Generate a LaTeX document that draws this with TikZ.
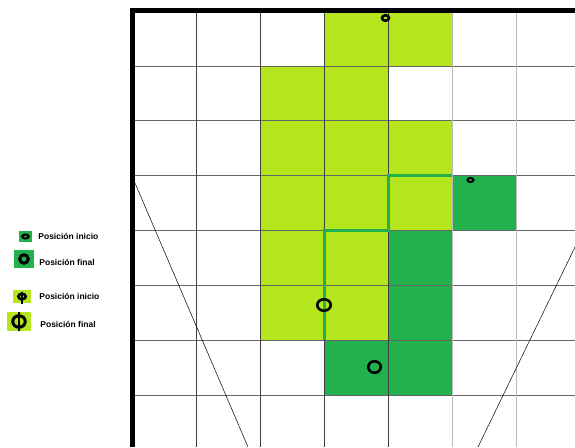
\documentclass[tikz,border=0pt]{standalone}
\usepackage{fontspec}
\setmainfont{Liberation Sans}
\usetikzlibrary{positioning, shapes.geometric}
\definecolor{verde}{HTML}{22B14C}
\definecolor{lima}{HTML}{B5E61D}

\begin{document}
\begin{tikzpicture}[
    x=1pt, y=-1pt,
    node distance=6pt,
    marca/.style={ellipse, draw=black, line width=#1, inner sep=0pt},
    marca/.default=2pt,
    cuadro/.style={rectangle, fill=#1, inner sep=0pt},
    etiqueta/.style={font=\fontsize{8.5}{10}\selectfont\bfseries, inner sep=0pt},
    linea/.style={line width=0.8pt, draw=#1}
]
\useasboundingbox (0,0) rectangle (575,447);
\clip (0,0) rectangle (575,447);

% casillas
\foreach \c/\r in {3/0,4/0,2/1,3/1,2/2,3/2,4/2,2/3,3/3,4/3,2/4,3/4,2/5,3/5}
  \fill[lima] ({132+64*\c},{11+54.9*\r}) rectangle ++(64,54.9);
\foreach \c/\r in {5/3,4/4,4/5,3/6,4/6}
  \fill[verde] ({132+64*\c},{11+54.9*\r}) rectangle ++(64,54.9);

% rejilla
\foreach \y in {65.9,120.8,175.7,230.6,285.5,340.4,395.3}
  \draw[linea=black!60] (132,\y) -- (575,\y);
\foreach \x in {196,260,324,388}
  \draw[linea=black!75] (\x,11) -- (\x,447);
\foreach \x in {452,516}
  \draw[linea=gray!55] (\x,11) -- (\x,447);

\draw[line width=0.5pt] (132,176) -- (248,447);
\draw[line width=0.5pt] (575,247) -- (478,447);

\draw[line width=5pt] (132,447) -- (132,10.5) -- (575,10.5);

% recorrido
\coordinate (p1) at (452,175.7);
\coordinate (p2) at (388,175.7);
\coordinate (p3) at (388,230.6);
\coordinate (p4) at (324,230.6);
\coordinate (p5) at (324,340.4);
\draw[verde, line width=3pt] (p1) -- (p2) -- (p3) -- (p4) -- (p5);

\node[marca=2.6pt, minimum width=7pt, minimum height=5.5pt] (ini1) at (385.5,18) {};
\node[marca=2pt, minimum width=6pt, minimum height=4pt] (ini2) at (470.5,180) {};
\node[marca=2.6pt, minimum width=13.5pt, minimum height=11.5pt] (fin1) at (324,305) {};
\node[marca=2.6pt, minimum width=12.5pt, minimum height=11.5pt] (fin2) at (374.5,367) {};

% leyenda
\node[cuadro=verde, minimum width=13pt, minimum height=11pt] (lg1) at (25.5,236.5) {};
\node[marca=2pt, minimum width=6.5pt, minimum height=4pt] (lg1c) at (lg1) {};
\node[etiqueta, right=6pt of lg1] (t1) {Posición inicio};

\node[cuadro=verde, minimum width=20pt, minimum height=18pt] (lg2) at (24,259) {};
\node[marca=3pt, minimum width=8.5pt, minimum height=8.5pt] (lg2c) at (lg2) {};
\node[etiqueta, right=5pt of lg2, yshift=-3pt] (t2) {Posición final};

\node[cuadro=lima, minimum width=18pt, minimum height=13pt] (lg3) at (22,296.5) {};
\node[marca=2.5pt, minimum width=7.5pt, minimum height=5.5pt] (lg3c) at (lg3) {};
\draw[line width=1.2pt] ([yshift=1pt]lg3c.north) -- ([yshift=-3pt]lg3c.south);
\node[etiqueta, right=8pt of lg3] (t3) {Posición inicio};

\node[cuadro=lima, minimum width=24pt, minimum height=19pt] (lg4) at (19,321.5) {};
\node[marca=3pt, minimum width=12.5pt, minimum height=11.5pt] (lg4c) at (lg4) {};
\draw[line width=1.2pt] ([yshift=2pt]lg4c.north) -- ([yshift=-2pt]lg4c.south);
\node[etiqueta, right=9pt of lg4, yshift=-2.5pt] (t4) {Posición final};
\end{tikzpicture}
\end{document}
